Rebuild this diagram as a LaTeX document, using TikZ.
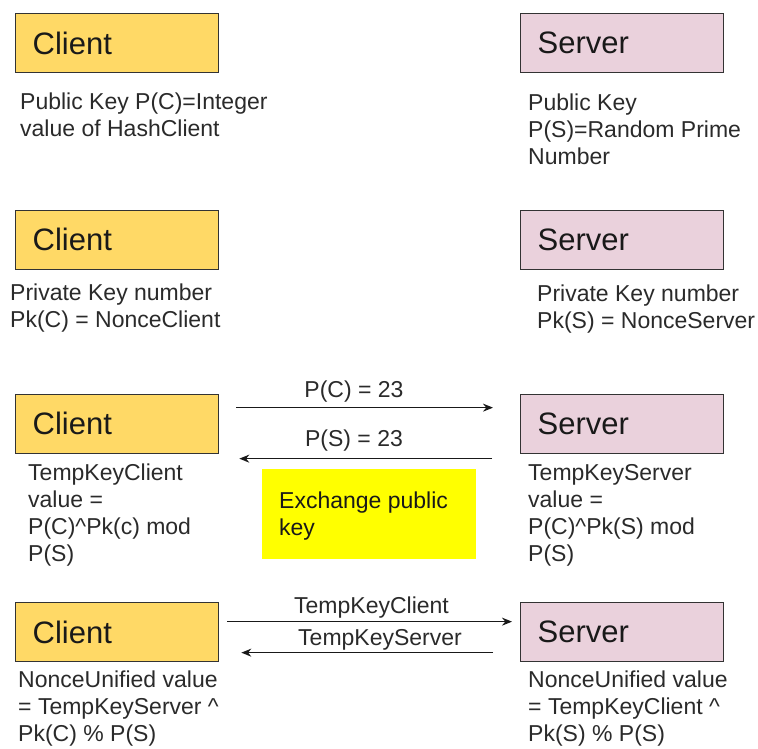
\documentclass[tikz,border=0pt]{standalone}
\usepackage{fontspec}
\setmainfont{Liberation Sans}
\usetikzlibrary{arrows.meta}

\definecolor{clientfill}{HTML}{FFD966}
\definecolor{serverfill}{HTML}{EAD1DC}
\definecolor{edgegray}{HTML}{333333}
\definecolor{txtgray}{HTML}{2A2A2A}
\definecolor{notefill}{HTML}{FFFF00}

\tikzset{
  party/.style={draw=edgegray, line width=1.3pt, anchor=north west,
    minimum height=59pt, text width=169pt, inner xsep=17pt, inner ysep=0pt,
    align=left, font=\fontsize{31}{36}\selectfont, text=black!90},
  clientbox/.style={party, fill=clientfill},
  serverbox/.style={party, fill=serverfill},
  note/.style={anchor=base west, inner sep=0pt, text=txtgray,
    font=\fontsize{23}{27}\selectfont},
  msg/.style={anchor=base, inner sep=0pt, text=txtgray,
    font=\fontsize{23}{27}\selectfont},
  msgarrow/.style={draw=black!90, line width=1.4pt,
    -{Stealth[length=10pt,width=8pt]}},
}
\newcommand{\lines}[1]{\begin{tabular}[t]{@{}l@{}}#1\end{tabular}}

\begin{document}
\begin{tikzpicture}[x=1pt, y=-1pt]
  \useasboundingbox (0,0) rectangle (758,749);

  % Row 1: public keys
  \node[clientbox] (c1) at (15,13) {Client};
  \node[serverbox] (s1) at (520,13) {Server};
  \node[note] (c1txt) at (20,110) {\lines{Public Key P(C)=Integer\\value of HashClient}};
  \node[note] (s1txt) at (528,111) {\lines{Public Key\\P(S)=Random Prime\\Number}};

  % Row 2: private keys
  \node[clientbox] (c2) at (15,209.5) {Client};
  \node[serverbox] (s2) at (520,209.5) {Server};
  \node[note] (c2txt) at (10,300) {\lines{Private Key number\\Pk(C) = NonceClient}};
  \node[note] (s2txt) at (537,301) {\lines{Private Key number\\Pk(S) = NonceServer}};

  % Row 3: exchange of public keys
  \node[clientbox] (c3) at (15,393.5) {Client};
  \node[serverbox] (s3) at (520,393.5) {Server};
  \draw[msgarrow, shorten <=17pt, shorten >=27pt]
    ([yshift=16pt]c3.east) -- ([yshift=16pt]s3.west);
  \draw[msgarrow, shorten <=28pt, shorten >=20pt]
    ([yshift=-35pt]s3.west) -- ([yshift=-35pt]c3.east);
  \node[msg] (m1) at (354,397) {P(C) = 23};
  \node[msg] (m2) at (354,446) {P(S) = 23};
  \node[fill=notefill, anchor=north west, minimum width=214pt,
    minimum height=90pt, inner sep=0pt] (ex) at (262,469) {};
  \node[note, text=black!90] (extxt) at (279,508) {\lines{Exchange public\\key}};
  \node[note] (c3txt) at (28,480) {\lines{TempKeyClient\\value =\\P(C)\^{}Pk(c) mod\\P(S)}};
  \node[note] (s3txt) at (528,480) {\lines{TempKeyServer\\value =\\P(C)\^{}Pk(S) mod\\P(S)}};

  % Row 4: exchange of temporary keys
  \node[clientbox] (c4) at (15,602) {Client};
  \node[serverbox] (s4) at (520,602) {Server};
  \draw[msgarrow, shorten <=8pt, shorten >=8pt]
    ([yshift=10.5pt]c4.east) -- ([yshift=10.5pt]s4.west);
  \draw[msgarrow, shorten <=27pt, shorten >=22pt]
    ([yshift=-20.5pt]s4.west) -- ([yshift=-20.5pt]c4.east);
  \node[msg] (m3) at (371.5,613) {TempKeyClient};
  \node[msg] (m4) at (380,645) {TempKeyServer};
  \node[note] (c4txt) at (18,687) {\lines{NonceUnified value\\= TempKeyServer \^{}\\Pk(C) \% P(S)}};
  \node[note] (s4txt) at (528,687) {\lines{NonceUnified value\\= TempKeyClient \^{}\\Pk(S) \% P(S)}};
\end{tikzpicture}
\end{document}
